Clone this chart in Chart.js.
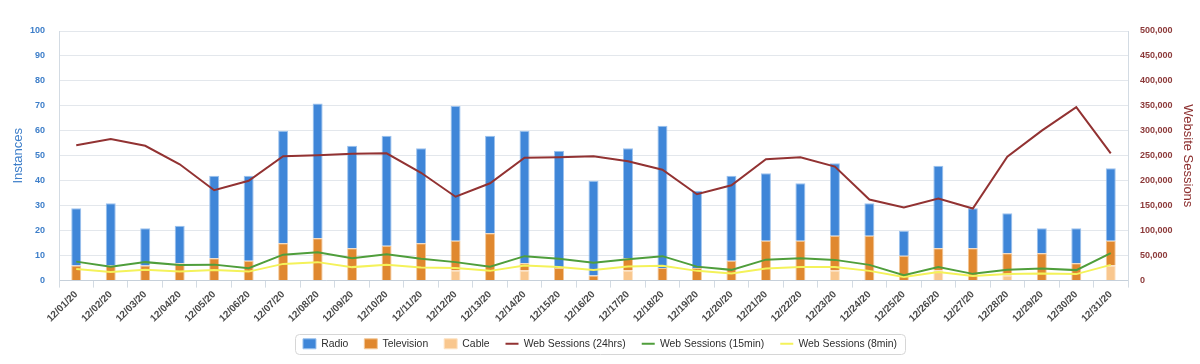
<!DOCTYPE html>
<html>
<head>
<meta charset="utf-8">
<title>Instances vs Website Sessions</title>
<script src="https://cdn.jsdelivr.net/npm/chart.js@4.4.1/dist/chart.umd.min.js"></script>
<style>
  html, body { margin: 0; padding: 0; background: #fff; }
  #wrap { width: 1200px; height: 364px; position: relative; }
</style>
</head>
<body>
<div id="wrap"><canvas id="grafico"></canvas></div>
<script>
// Datos
var fechas = ['12/01/20', '12/02/20', '12/03/20', '12/04/20', '12/05/20', '12/06/20', '12/07/20', '12/08/20',
    '12/09/20', '12/10/20', '12/11/20', '12/12/20', '12/13/20', '12/14/20', '12/15/20', '12/16/20',
    '12/17/20', '12/18/20', '12/19/20', '12/20/20', '12/21/20', '12/22/20', '12/23/20', '12/24/20',
    '12/25/20', '12/26/20', '12/27/20', '12/28/20', '12/29/20', '12/30/20', '12/31/20'];

var radio = [23, 25, 15, 15, 33, 34, 45, 54, 41, 44, 38, 54, 39, 53, 47, 38, 44, 57, 31, 34, 27, 23, 29, 13, 10, 33, 16, 16, 10, 14, 29];
var television = [6, 6, 6, 7, 9, 8, 15, 17, 13, 14, 15, 12, 19, 3, 5, 2, 5, 5, 5, 8, 16, 16, 14, 18, 10, 9, 13, 9, 11, 7, 10];
var cable = [0, 0, 0, 0, 0, 0, 0, 0, 0, 0, 0, 4, 0, 4, 0, 0, 4, 0, 0, 0, 0, 0, 4, 0, 0, 4, 0, 2, 0, 0, 6];

var sesiones24 = [271000, 283500, 270000, 233000, 181000, 200000, 249000, 251000, 254000, 255000, 216000,
    168000, 195000, 246000, 247000, 249000, 239000, 222000, 173000, 191000, 243000, 247000, 228500,
    162500, 146500, 164500, 144500, 248000, 300500, 347500, 255000];
var sesiones15 = [38000, 28000, 37000, 31500, 32000, 25000, 52000, 57000, 45000, 53000, 44000, 37000, 28000,
    49000, 44000, 36000, 43000, 49000, 28000, 21500, 42000, 45000, 41500, 31500, 11000, 27000, 13500,
    21500, 24000, 21000, 55000];
var sesiones8 = [23000, 17000, 21500, 18000, 21000, 18000, 33500, 37000, 27000, 31500, 26000, 25000, 19500,
    30000, 27000, 21000, 28000, 29500, 19500, 14000, 24000, 27000, 27000, 19500, 7000, 17000, 9000,
    13000, 14000, 13000, 31500];

var ticksInstancias = { min: 0, max: 100, paso: 10 };
var ticksSesiones = { min: 0, max: 500000, paso: 50000 };

Chart.defaults.font.family = '"Liberation Sans", Arial, sans-serif';

// Marco redondeado alrededor de la leyenda
var marcoLeyenda = {
    id: 'marcoLeyenda',
    afterDraw: function(chart) {
        var cajas = chart.legend && chart.legend.legendHitBoxes;
        if (!cajas || !cajas.length) return;
        var l = Infinity, r = -Infinity, t = Infinity, b = -Infinity;
        cajas.forEach(function(h) {
            l = Math.min(l, h.left);
            r = Math.max(r, h.left + h.width);
            t = Math.min(t, h.top);
            b = Math.max(b, h.top + h.height);
        });
        var ctx = chart.ctx;
        ctx.save();
        ctx.strokeStyle = '#d6d6d6';
        ctx.lineWidth = 1;
        ctx.beginPath();
        ctx.roundRect(Math.round(l - 8) + 0.5, Math.round(t - 5) + 0.5, Math.round(r - l + 16), Math.round(b - t + 10), 4);
        ctx.stroke();
        ctx.restore();
    }
};

var ctx = document.getElementById('grafico').getContext('2d');
var grafico = new Chart(ctx, {
    type: 'bar',
    data: {
        labels: fechas,
        datasets: [
            { label: 'Radio', data: radio, backgroundColor: '#3f86d8', borderColor: '#9cc2ee', borderWidth: 1,
              order: 3, barPercentage: 0.29, categoryPercentage: 1, pointStyle: 'rect' },
            { label: 'Television', data: television, backgroundColor: '#e0882f', borderColor: '#f3c898', borderWidth: 1,
              order: 2, barPercentage: 0.29, categoryPercentage: 1, pointStyle: 'rect' },
            { label: 'Cable', data: cable, backgroundColor: '#f9c78e', borderColor: '#fde3c4', borderWidth: 1,
              order: 1, barPercentage: 0.29, categoryPercentage: 1, pointStyle: 'rect' },
            { type: 'line', label: 'Web Sessions (24hrs)', data: sesiones24, yAxisID: 'y1', borderColor: '#923232',
              backgroundColor: '#923232', borderWidth: 2, pointRadius: 0, tension: 0, order: 0, pointStyle: 'line' },
            { type: 'line', label: 'Web Sessions (15min)', data: sesiones15, yAxisID: 'y1', borderColor: '#4f9e3b',
              backgroundColor: '#4f9e3b', borderWidth: 2, pointRadius: 0, tension: 0, order: 0, pointStyle: 'line' },
            { type: 'line', label: 'Web Sessions (8min)', data: sesiones8, yAxisID: 'y1', borderColor: '#f4f25a',
              backgroundColor: '#f4f25a', borderWidth: 2, pointRadius: 0, tension: 0, order: 0, pointStyle: 'line' }
        ]
    },
    options: {
        responsive: true,
        maintainAspectRatio: false,
        animation: false,
        layout: { padding: { top: 31, bottom: 5, left: 0, right: 0 } },
        plugins: {
            tooltip: { enabled: false },
            legend: {
                position: 'bottom',
                labels: {
                    usePointStyle: true,
                    pointStyleWidth: 13,
                    boxHeight: 10,
                    padding: 16,
                    color: '#2e2e2e',
                    font: { size: 10.4 },
                    sort: function(a, b) { return a.datasetIndex - b.datasetIndex; }
                }
            }
        },
        scales: {
            x: {
                stacked: true,
                offset: true,
                grid: { display: true, drawOnChartArea: false, drawTicks: true, tickLength: 7, offset: true, color: '#d3dbe3' },
                border: { display: true, color: '#c6d0da' },
                ticks: { autoSkip: false, maxRotation: 45, minRotation: 45, padding: 1, color: '#4a4a4a',
                         font: { size: 10, weight: 'bold' } },
                afterFit: function(s) { s.height = 42; }
            },
            y: {
                position: 'left',
                stacked: true,
                min: ticksInstancias.min,
                max: ticksInstancias.max,
                ticks: { stepSize: ticksInstancias.paso, padding: 14, color: '#3d7ec9', font: { size: 9, weight: 'bold' } },
                grid: { color: '#e3e7ec', drawTicks: false },
                border: { display: true, color: '#d3dbe3' },
                title: { display: true, text: 'Instances', color: '#3d7ec9', font: { size: 13 }, padding: { top: 11, bottom: 0 } },
                afterFit: function(s) { s.width = 59; }
            },
            y1: {
                position: 'right',
                min: ticksSesiones.min,
                max: ticksSesiones.max,
                ticks: { stepSize: ticksSesiones.paso, padding: 12, color: '#8c3a3a', font: { size: 9, weight: 'bold' },
                         callback: function(v) { return v.toLocaleString('en-US'); } },
                grid: { drawOnChartArea: false, drawTicks: false },
                border: { display: true, color: '#d3dbe3' },
                title: { display: true, text: 'Website Sessions', color: '#8c2f2f', font: { size: 13 }, padding: { top: 5, bottom: 0 } },
                afterFit: function(s) { s.width = 72; }
            }
        }
    },
    plugins: [marcoLeyenda]
});
</script>
</body>
</html>
